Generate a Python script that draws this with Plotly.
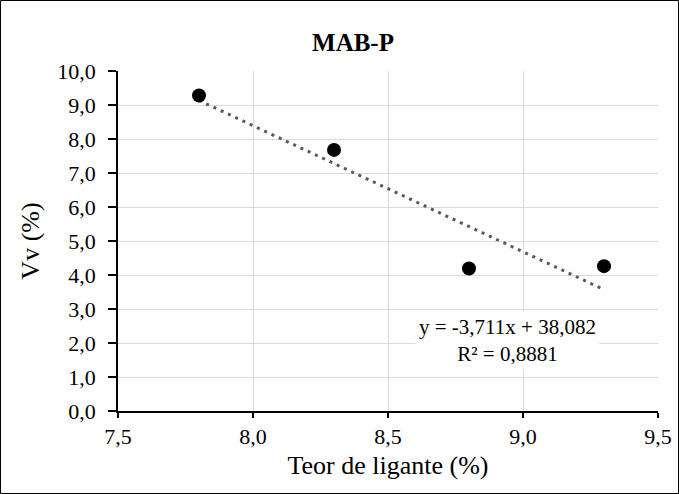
import numpy as np
import plotly.graph_objects as go

teor = [7.8, 8.3, 8.8, 9.3]
vv = [9.28, 7.68, 4.19, 4.26]
title = "MAB-P"
x_title = "Teor de ligante (%)"
y_title = "Vv (%)"
eq_text = "y = -3,711x + 38,082<br>R² = 0,8881"

slope, intercept = np.polyfit(teor, vv, 1)
trend_x = [min(teor), max(teor)]
trend_y = [slope * v + intercept for v in trend_x]

FONT = "Liberation Serif"

fig = go.Figure()
fig.add_trace(go.Scatter(x=trend_x, y=trend_y, mode="lines",
                         line=dict(color="#595959", width=3, dash="3px,5px"),
                         showlegend=False, hoverinfo="skip"))
fig.add_trace(go.Scatter(x=teor, y=vv, mode="markers",
                         marker=dict(color="black", size=14),
                         showlegend=False))

W, H = 679, 494
L, R, T, B = 118, 21, 71, 83
pw, ph = W - L - R, H - T - B

fig.update_layout(
    width=W, height=H,
    margin=dict(l=L, r=R, t=T, b=B, autoexpand=False),
    paper_bgcolor="white", plot_bgcolor="white",
    separators=",.",
    font=dict(family=FONT, size=22, color="black"),
    title=dict(text="<b>" + title + "</b>", x=353 / W, xanchor="center",
               y=1 - 42 / H, yanchor="middle",
               font=dict(family=FONT, size=25, color="black")),
    xaxis=dict(range=[7.5, 9.5], dtick=0.5, tick0=7.5, tickformat=".1f",
               showgrid=True, gridcolor="#d9d9d9", gridwidth=1.3,
               showline=True, linecolor="black", linewidth=1.8,
               ticks="outside", ticklen=5, tickcolor="black", tickwidth=1.8,
               zeroline=False, automargin=False,
               title=dict(text=x_title, font=dict(family=FONT, size=26, color="black"), standoff=8),
               tickfont=dict(family=FONT, size=22, color="black")),
    yaxis=dict(range=[0, 10], dtick=1, tick0=0, tickformat=".1f",
               showgrid=True, gridcolor="#d9d9d9", gridwidth=1.3,
               showline=True, linecolor="black", linewidth=1.8,
               ticks="outside", ticklen=8, tickcolor="black", tickwidth=1.8,
               zeroline=False, automargin=False, ticklabelstandoff=8,
               title=dict(text=y_title, font=dict(family=FONT, size=26, color="black"), standoff=10),
               tickfont=dict(family=FONT, size=22, color="black")),
    annotations=[dict(text=eq_text, xref="paper", yref="paper",
                      x=(507 - L) / pw, y=1 - (340 - T) / ph,
                      xanchor="center", yanchor="middle", showarrow=False,
                      bgcolor="white", borderpad=3, align="center",
                      font=dict(family=FONT, size=21, color="black"))],
    shapes=[dict(type="rect", xref="paper", yref="paper",
                 x0=-(L - 0.5) / pw, x1=1 + (R - 0.5) / pw,
                 y0=-(B - 0.5) / ph, y1=1 + (T - 0.5) / ph,
                 line=dict(color="black", width=1), layer="above")],
)

fig.write_html("out.html", config={"displayModeBar": False},
               post_script="document.body.style.margin='0';document.body.style.overflow='hidden';")
